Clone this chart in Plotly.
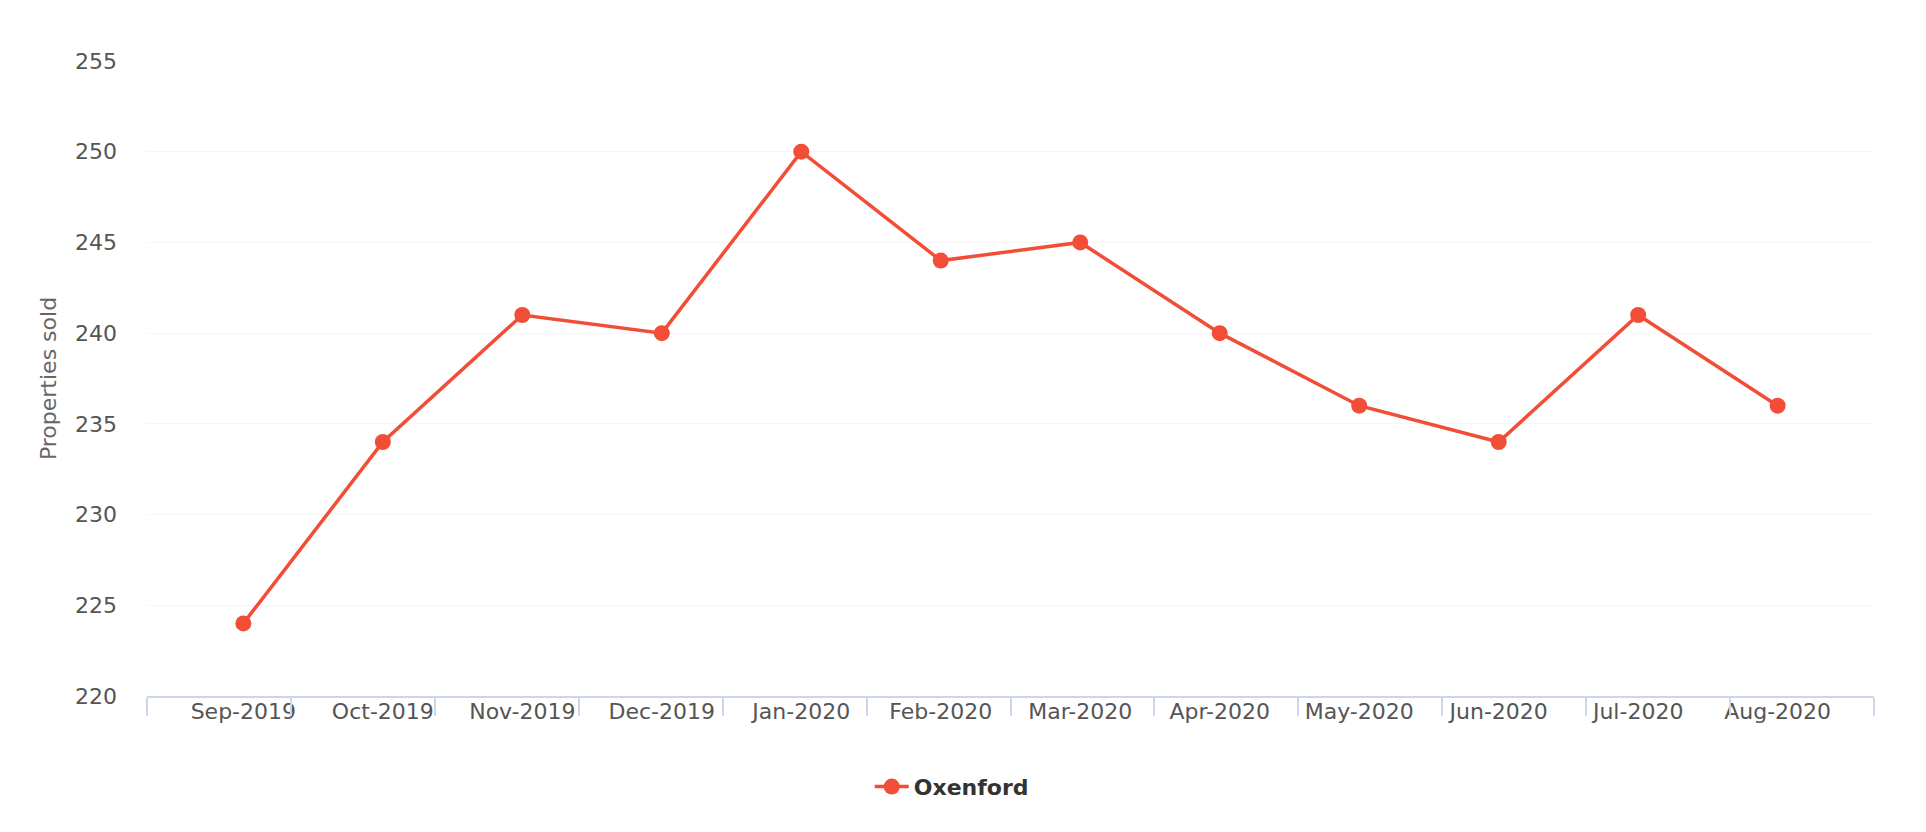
import plotly.graph_objects as go

# monthly data
months = ["Sep-2019", "Oct-2019", "Nov-2019", "Dec-2019", "Jan-2020", "Feb-2020",
          "Mar-2020", "Apr-2020", "May-2020", "Jun-2020", "Jul-2020", "Aug-2020"]
sold = [224, 234, 241, 240, 250, 244, 245, 240, 236, 234, 241, 236]
series_name = "Oxenford"
y_ticks = [220, 225, 230, 235, 240, 245, 250, 255]
y_title = "Properties sold"

line_color = "#f24d36"
axis_color = "#ccd6eb"
grid_color = "#f6f6f6"

fig = go.Figure()

# invisible copy on a second x axis, only there to draw the short boundary ticks
fig.add_trace(go.Scatter(
    x=months, y=sold, xaxis="x2", mode="lines",
    opacity=0, hoverinfo="skip", showlegend=False,
))

fig.add_trace(go.Scatter(
    x=months, y=sold, name=series_name,
    mode="lines+markers",
    line=dict(color=line_color, width=3.5),
    marker=dict(color=line_color, size=16),
    showlegend=True,
))

# the page body adds 8px, so margins are trimmed on the left/top
fig.update_layout(
    width=1926, height=832,
    margin=dict(l=139, r=60, t=53, b=144),
    paper_bgcolor="white", plot_bgcolor="white",
    font=dict(family="DejaVu Sans", size=22, color="#555555"),
    showlegend=True,
    legend=dict(
        orientation="h", xref="container", yref="container",
        x=0.49, y=0.064, xanchor="center", yanchor="middle",
        font=dict(size=22, color="#333333", family="DejaVu Sans", weight="bold"),
        itemwidth=34,
    ),
    xaxis2=dict(
        overlaying="x", anchor="y", side="bottom",
        type="category", categoryarray=months, range=[-0.5, 11.5], automargin=False,
        showticklabels=False, showgrid=False, zeroline=False,
        showline=True, linecolor=axis_color, linewidth=2,
        ticks="outside", tickson="boundaries", ticklen=18,
        tickcolor=axis_color, tickwidth=2,
    ),
)

# main x axis: labels only, pushed down by a longer invisible tick
fig.update_xaxes(
    selector=dict(anchor="y", overlaying=None),
    type="category", categoryarray=months, range=[-0.5, 11.5], automargin=False,
    showline=False,
    ticks="outside", tickson="boundaries", ticklen=27,
    tickcolor="rgba(0,0,0,0)", tickwidth=2,
    showgrid=True, gridcolor=grid_color, gridwidth=1,
    tickfont=dict(size=22, color="#555555"),
    zeroline=False,
)

fig.update_yaxes(
    range=[220, 255], tickvals=y_ticks, automargin=False,
    showgrid=True, gridcolor=grid_color, gridwidth=1,
    showline=False, zeroline=False,
    tickfont=dict(size=22, color="#555555"),
    ticklabelstandoff=29,
    title=dict(text=y_title, font=dict(size=22, color="#666666"), standoff=12),
)

fig.write_html("out.html")
